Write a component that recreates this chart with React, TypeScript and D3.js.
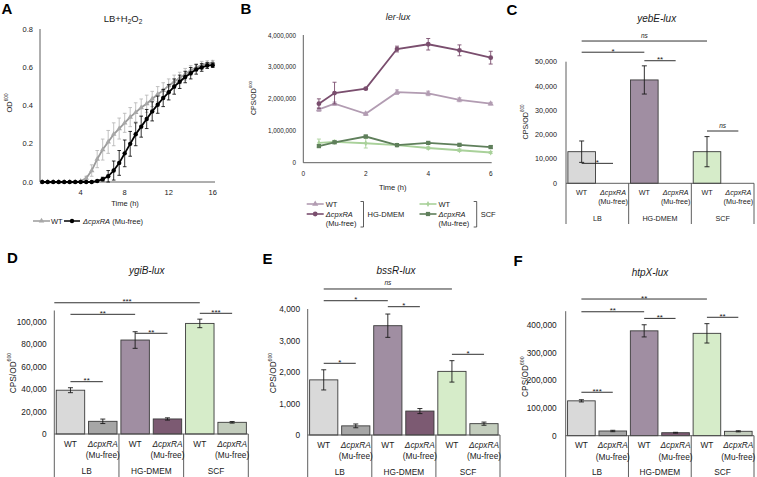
import React from "react";
import * as d3 from "d3";

const FONT = "'Liberation Sans', Arial, Helvetica, sans-serif";
const AXIS = "#4d4d4d";
const TEXT = "#1a1a1a";

// ---- Panel A: growth in LB + H2O2 (OD600) ----
const growthHours = [0.5, 1, 1.5, 2, 2.5, 3, 3.5, 4, 4.5, 5, 5.5, 6, 6.5, 7, 7.5, 8, 8.5, 9, 9.5, 10, 10.5, 11, 11.5, 12, 12.5, 13, 13.5, 14, 14.5, 15, 15.5, 16];
const growthWT = [0, 0, 0, 0, 0, 0, 0, 0.005, 0.02, 0.06, 0.12, 0.17, 0.21, 0.25, 0.28, 0.31, 0.34, 0.365, 0.39, 0.41, 0.435, 0.46, 0.48, 0.505, 0.525, 0.545, 0.565, 0.585, 0.6, 0.612, 0.62, 0.625];
const growthWTSd = [0, 0, 0, 0, 0, 0, 0, 0.003, 0.01, 0.03, 0.045, 0.055, 0.06, 0.06, 0.055, 0.05, 0.05, 0.05, 0.045, 0.045, 0.04, 0.04, 0.04, 0.035, 0.035, 0.03, 0.03, 0.025, 0.02, 0.02, 0.015, 0.012];
const growthCpx = [0, 0, 0, 0, 0, 0, 0, 0, 0, 0, 0.005, 0.015, 0.03, 0.06, 0.1, 0.15, 0.2, 0.25, 0.29, 0.33, 0.37, 0.405, 0.44, 0.47, 0.5, 0.525, 0.55, 0.57, 0.59, 0.6, 0.61, 0.612];
const growthCpxSd = [0, 0, 0, 0, 0, 0, 0, 0, 0, 0, 0.003, 0.01, 0.03, 0.05, 0.065, 0.07, 0.065, 0.06, 0.055, 0.05, 0.05, 0.045, 0.045, 0.04, 0.04, 0.035, 0.03, 0.03, 0.025, 0.02, 0.015, 0.012];
const growthYTicks = [0, 0.2, 0.4, 0.6, 0.8];
const growthXTicks = [4, 8, 12, 16];

// ---- Panel B: ler-lux time course (CPS/OD600) ----
const lerHours = [0.5, 1, 2, 3, 4, 5, 6];
const lerWTDmem = [1670000, 1850000, 1530000, 2210000, 2170000, 1970000, 1850000];
const lerWTDmemSd = [60000, 50000, 50000, 70000, 70000, 60000, 40000];
const lerCpxDmem = [1850000, 2180000, 2320000, 3560000, 3710000, 3520000, 3290000];
const lerCpxDmemSd = [150000, 340000, 30000, 90000, 180000, 170000, 200000];
const lerWTScf = [620000, 650000, 610000, 550000, 460000, 390000, 320000];
const lerWTScfSd = [120000, 50000, 150000, 40000, 40000, 40000, 30000];
const lerCpxScf = [520000, 640000, 820000, 550000, 620000, 560000, 490000];
const lerCpxScfSd = [40000, 30000, 40000, 30000, 30000, 30000, 40000];
const lerYTicks = [0, 1000000, 2000000, 3000000, 4000000];
const lerXTicks = [0, 2, 4, 6];

// ---- Panels C-F: reporter activity per medium ----
// a / b are bar slot indices (fractional values reach slot edges)
type Sig = { a: number; b: number; level: number; text: string };
const media = ["LB", "HG-DMEM", "SCF"];
const strains = ["WT", "ΔcpxRA"];
const barFill = ["#d9d9d9", "#a6a6a6", "#a08ea2", "#7c5a72", "#d6ecc9", "#c3cdbd"];

const yebEMean = [13000, 0, 42500, 0, 13000, 0];
const yebESd = [4400, 0, 5800, 0, 6200, 0];
const yebETicks = [0, 10000, 20000, 30000, 40000, 50000];
const yebESig: Sig[] = [
  { a: 0, b: 4, level: 58500, text: "ns" },
  { a: 0, b: 2, level: 53900, text: "*" },
  { a: 2, b: 3, level: 50400, text: "**" },
  { a: 0, b: 1, level: 8200, text: "*" },
  { a: 4, b: 5, level: 21500, text: "ns" },
];

const ygiBMean = [39000, 11300, 83700, 13400, 98500, 10400];
const ygiBSd = [2200, 2000, 7400, 1000, 3800, 700];
const ygiBTicks = [0, 20000, 40000, 60000, 80000, 100000];
const ygiBSig: Sig[] = [
  { a: -0.5, b: 4, level: 116900, text: "***" },
  { a: 0, b: 2, level: 106600, text: "**" },
  { a: 2, b: 3, level: 89700, text: "**" },
  { a: 4, b: 5, level: 107500, text: "***" },
  { a: 0, b: 1, level: 46600, text: "**" },
];

const bssRMean = [1750, 290, 3470, 760, 2020, 360];
const bssRSd = [320, 60, 370, 80, 340, 50];
const bssRTicks = [0, 1000, 2000, 3000, 4000];
const bssRSig: Sig[] = [
  { a: 0, b: 4, level: 4635, text: "ns" },
  { a: 0, b: 2, level: 4263, text: "*" },
  { a: 2, b: 3, level: 4073, text: "*" },
  { a: 4, b: 5, level: 2562, text: "*" },
  { a: 0, b: 1, level: 2276, text: "*" },
];

const htpXMean = [126000, 17000, 379000, 10800, 370000, 15900];
const htpXSd = [4000, 2500, 22000, 1500, 35000, 2000];
const htpXTicks = [0, 100000, 200000, 300000, 400000];
const htpXSig: Sig[] = [
  { a: 0, b: 4, level: 494000, text: "**" },
  { a: 0, b: 2, level: 448000, text: "**" },
  { a: 2, b: 3, level: 424000, text: "**" },
  { a: 4, b: 5, level: 428000, text: "**" },
  { a: 0, b: 1, level: 157000, text: "***" },
];

const fmt = d3.format(",");

function YLabel({ x, y, size, base }: { x: number; y: number; size: number; base: string }) {
  return (
    <text transform={`translate(${x},${y}) rotate(-90)`} textAnchor="middle" dominantBaseline="central" fontSize={size} fill={TEXT}>
      {base}
      <tspan fontSize={size * 0.62} dy={-size * 0.4}>600</tspan>
    </text>
  );
}

function Letter({ x, y, t }: { x: number; y: number; t: string }) {
  return (
    <text x={x} y={y} fontSize={15} fontWeight="bold" fill="#000" textAnchor="middle" dominantBaseline="central">
      {t}
    </text>
  );
}

function ErrBar({ x, y1, y2, cap, color, w }: { x: number; y1: number; y2: number; cap: number; color: string; w: number }) {
  return (
    <g stroke={color} strokeWidth={w}>
      <line x1={x} x2={x} y1={y1} y2={y2} />
      <line x1={x - cap} x2={x + cap} y1={y1} y2={y1} />
      <line x1={x - cap} x2={x + cap} y1={y2} y2={y2} />
    </g>
  );
}

function GrowthPanel() {
  const x = d3.scaleLinear().domain([0, 16]).range([36.7, 212.7]);
  const y = d3.scaleLinear().domain([0, 0.8]).range([182, 29.3]);
  const line = d3.line<number>().x((_, i) => x(growthHours[i])).y((d) => y(d));
  const tri = d3.symbol(d3.symbolTriangle, 13)()!;
  const series = [
    { v: growthWT, sd: growthWTSd, col: "#9b9b9b", err: "#b3b3b3", mark: "tri" },
    { v: growthCpx, sd: growthCpxSd, col: "#000", err: "#000", mark: "circ" },
  ];
  return (
    <g>
      <Letter x={7} y={8} t="A" />
      <text x={123} y={18} textAnchor="middle" dominantBaseline="central" fontSize={9.5} fill={TEXT}>
        LB+H<tspan fontSize={6.5} dy={2.5}>2</tspan>
        <tspan dy={-2.5}>O</tspan>
        <tspan fontSize={6.5} dy={2.5}>2</tspan>
      </text>
      <line x1={40} x2={40} y1={29} y2={182} stroke={AXIS} strokeWidth={0.9} />
      <line x1={40} x2={215} y1={182} y2={182} stroke={AXIS} strokeWidth={0.9} />
      {growthYTicks.map((t) => (
        <text key={t} x={33} y={y(t)} textAnchor="end" dominantBaseline="central" fontSize={7.5} fill={TEXT}>
          {t.toFixed(1)}
        </text>
      ))}
      {growthXTicks.map((t) => (
        <text key={t} x={x(t)} y={192.5} textAnchor="middle" dominantBaseline="central" fontSize={7.5} fill={TEXT}>
          {t}
        </text>
      ))}
      <text x={125} y={203} textAnchor="middle" dominantBaseline="central" fontSize={7.5} fill={TEXT}>Time (h)</text>
      <YLabel x={9} y={103} size={7.5} base="OD" />
      {series.map((s, k) => (
        <g key={k}>
          {s.v.map((d, i) =>
            s.sd[i] > 0 ? (
              <ErrBar key={i} x={x(growthHours[i])} y1={y(d + s.sd[i])} y2={y(d - s.sd[i])} cap={1.8} color={s.err} w={0.8} />
            ) : null
          )}
          <path d={line(s.v)!} fill="none" stroke={s.col} strokeWidth={1.8} />
          {s.v.map((d, i) =>
            s.mark === "tri" ? (
              <path key={i} d={tri} transform={`translate(${x(growthHours[i])},${y(d)})`} fill="#a8a8a8" />
            ) : (
              <circle key={i} cx={x(growthHours[i])} cy={y(d)} r={2.2} fill="#000" />
            )
          )}
        </g>
      ))}
      {/* legend */}
      <g fontSize={7.5} fill={TEXT}>
        <line x1={33} x2={50} y1={221} y2={221} stroke="#9b9b9b" strokeWidth={1.5} />
        <path d={tri} transform="translate(41.5,221)" fill="#a8a8a8" />
        <text x={51} y={221} dominantBaseline="central">WT</text>
        <line x1={64} x2={80} y1={221} y2={221} stroke="#000" strokeWidth={1.5} />
        <circle cx={72} cy={221} r={2.2} fill="#000" />
        <text x={83} y={221} dominantBaseline="central">
          <tspan fontStyle="italic">ΔcpxRA</tspan> (Mu-free)
        </text>
      </g>
    </g>
  );
}

function LerPanel() {
  const x = d3.scaleLinear().domain([0, 6]).range([303.3, 490.7]);
  const y = d3.scaleLinear().domain([0, 4000000]).range([162.7, 35]);
  const tri = d3.symbol(d3.symbolTriangle, 16)()!;
  const dia = d3.symbol(d3.symbolDiamond, 10)()!;
  const sq = d3.symbol(d3.symbolSquare, 18)()!;
  const circ = d3.symbol(d3.symbolCircle, 18)()!;
  const series = [
    { v: lerWTScf, sd: lerWTScfSd, col: "#a9d19a", m: dia },
    { v: lerCpxScf, sd: lerCpxScfSd, col: "#5f7f5b", m: sq },
    { v: lerWTDmem, sd: lerWTDmemSd, col: "#b29cb2", m: tri },
    { v: lerCpxDmem, sd: lerCpxDmemSd, col: "#7a4e6e", m: circ },
  ];
  const line = d3.line<number>().x((_, i) => x(lerHours[i])).y((d) => y(d));
  const legend = (lx: number, col1: string, m1: string, col2: string, m2: string, group: string, bx: number) => (
    <g fontSize={7.5} fill={TEXT}>
      <line x1={lx} x2={lx + 17} y1={204} y2={204} stroke={col1} strokeWidth={1.6} />
      <path d={m1} transform={`translate(${lx + 8.5},204)`} fill={col1} />
      <text x={lx + 19} y={204} dominantBaseline="central">WT</text>
      <line x1={lx} x2={lx + 17} y1={214} y2={214} stroke={col2} strokeWidth={1.6} />
      <path d={m2} transform={`translate(${lx + 8.5},214)`} fill={col2} />
      <text x={lx + 19} y={214} dominantBaseline="central" fontStyle="italic">ΔcpxRA</text>
      <text x={lx + 19} y={223.5} dominantBaseline="central">(Mu-free)</text>
      <path d={`M${bx - 3},201.5 H${bx} V227 H${bx - 3}`} fill="none" stroke="#333" strokeWidth={0.8} />
      <text x={bx + 4} y={214} dominantBaseline="central">{group}</text>
    </g>
  );
  return (
    <g>
      <Letter x={246} y={8} t="B" />
      <text x={398} y={17.3} textAnchor="middle" dominantBaseline="central" fontSize={9} fontStyle="italic" fill={TEXT}>ler-lux</text>
      <line x1={303.3} x2={303.3} y1={35} y2={162.7} stroke={AXIS} strokeWidth={0.9} />
      <line x1={303.3} x2={491.7} y1={162.7} y2={162.7} stroke={AXIS} strokeWidth={0.9} />
      {lerYTicks.map((t) => (
        <text key={t} x={296} y={y(t)} textAnchor="end" dominantBaseline="central" fontSize={6.3} fill={TEXT}>
          {fmt(t)}
        </text>
      ))}
      {lerXTicks.map((t) => (
        <text key={t} x={x(t)} y={173} textAnchor="middle" dominantBaseline="central" fontSize={6.5} fill={TEXT}>
          {t}
        </text>
      ))}
      <text x={392.7} y={187} textAnchor="middle" dominantBaseline="central" fontSize={7.5} fill={TEXT}>Time (h)</text>
      <YLabel x={253} y={98} size={7} base="CPS/OD" />
      {series.map((s, k) => (
        <g key={k}>
          <path d={line(s.v)!} fill="none" stroke={s.col} strokeWidth={1.8} />
          {s.v.map((d, i) => (
            <ErrBar key={i} x={x(lerHours[i])} y1={y(d + s.sd[i])} y2={y(d - s.sd[i])} cap={2} color={s.col} w={0.9} />
          ))}
          {s.v.map((d, i) => (
            <path key={"m" + i} d={s.m} transform={`translate(${x(lerHours[i])},${y(d)})`} fill={s.col} />
          ))}
        </g>
      ))}
      {legend(306.7, "#b29cb2", tri, "#7a4e6e", circ, "HG-DMEM", 363.5)}
      {legend(419.5, "#a9d19a", dia, "#5f7f5b", sq, "SCF", 476.7)}
    </g>
  );
}

type BarCfg = {
  letter: string; letterX: number; letterY: number;
  title: string; titleX: number; titleY: number;
  x0: number; x1: number; yBase: number; yTop: number; max: number;
  ticks: number[]; tickX: number; fs: number;
  ylabX: number; ylabY: number;
  rowA: number; rowB: number; rowC: number; sepEnd: number;
  mean: number[]; sd: number[]; sig: Sig[];
};

function BarPanel({ c }: { c: BarCfg }) {
  const idx = d3.range(c.mean.length);
  const x = d3.scaleBand<number>().domain(idx).range([c.x0, c.x1]).paddingInner(0.12).paddingOuter(0.06);
  const g = d3.scaleBand<string>().domain(media).range([c.x0, c.x1]);
  const y = d3.scaleLinear().domain([0, c.max]).range([c.yBase, c.yTop]);
  // slot centre for a (possibly fractional) bar index
  const cx = (i: number) => c.x0 + x.step() * (i + 0.5);
  return (
    <g>
      <Letter x={c.letterX} y={c.letterY} t={c.letter} />
      <text x={c.titleX} y={c.titleY} textAnchor="middle" dominantBaseline="central" fontSize={10} fontStyle="italic" fill={TEXT}>
        {c.title}
      </text>
      {c.ticks.map((t) => (
        <text key={t} x={c.tickX} y={y(t)} textAnchor="end" dominantBaseline="central" fontSize={c.fs} fill={TEXT}>
          {fmt(t)}
        </text>
      ))}
      <YLabel x={c.ylabX} y={c.ylabY} size={c.fs} base="CPS/OD" />
      {idx.map((i) => (
        <rect key={i} x={x(i)} y={y(c.mean[i])} width={x.bandwidth()} height={c.yBase - y(c.mean[i])} fill={barFill[i]} stroke="#3a3a3a" strokeWidth={0.9} />
      ))}
      {idx.map((i) =>
        c.sd[i] > 0 ? (
          <ErrBar key={i} x={cx(i)} y1={y(c.mean[i] + c.sd[i])} y2={y(c.mean[i] - c.sd[i])} cap={2.5} color="#1a1a1a" w={0.9} />
        ) : null
      )}
      {/* axes and category frame */}
      <line x1={c.x0} x2={c.x0} y1={c.yTop} y2={c.sepEnd} stroke={AXIS} strokeWidth={0.9} />
      <line x1={c.x0} x2={c.x1} y1={c.yBase} y2={c.yBase} stroke={AXIS} strokeWidth={0.9} />
      {media.map((m) => (
        <line key={m} x1={g(m)! + g.bandwidth()} x2={g(m)! + g.bandwidth()} y1={c.yBase} y2={c.sepEnd} stroke={AXIS} strokeWidth={0.9} />
      ))}
      {idx.map((i) => (
        <g key={i} fontSize={c.fs} fill={TEXT}>
          {i % 2 === 0 ? (
            <text x={cx(i)} y={c.yBase + c.rowA} textAnchor="middle" dominantBaseline="central">{strains[0]}</text>
          ) : (
            <>
              <text x={cx(i)} y={c.yBase + c.rowA} textAnchor="middle" dominantBaseline="central" fontStyle="italic">{strains[1]}</text>
              <text x={cx(i)} y={c.yBase + c.rowB} textAnchor="middle" dominantBaseline="central">(Mu-free)</text>
            </>
          )}
        </g>
      ))}
      {media.map((m) => (
        <text key={m} x={g(m)! + g.bandwidth() / 2} y={c.yBase + c.rowC} textAnchor="middle" dominantBaseline="central" fontSize={c.fs} fill={TEXT}>
          {m}
        </text>
      ))}
      {/* significance */}
      {c.sig.map((s, k) => {
        const ly = y(s.level);
        const xa = cx(s.a);
        const xb = cx(s.b);
        const isNs = s.text === "ns";
        return (
          <g key={k}>
            <line x1={xa} x2={xb} y1={ly} y2={ly} stroke="#1a1a1a" strokeWidth={0.9} />
            <text x={(xa + xb) / 2} y={isNs ? ly - 3.5 : ly + 1.5} textAnchor="middle" fontSize={isNs ? 6.5 : 8} fontStyle={isNs ? "italic" : "normal"} fill={TEXT}>
              {s.text}
            </text>
          </g>
        );
      })}
    </g>
  );
}

const panelC: BarCfg = {
  letter: "C", letterX: 512, letterY: 9, title: "yebE-lux", titleX: 656.7, titleY: 18.3,
  x0: 566, x1: 754, yBase: 183.3, yTop: 61.7, max: 50000, ticks: yebETicks, tickX: 557, fs: 7.2,
  ylabX: 525, ylabY: 122, rowA: 9.5, rowB: 18.5, rowC: 35, sepEnd: 224,
  mean: yebEMean, sd: yebESd, sig: yebESig,
};
const panelD: BarCfg = {
  letter: "D", letterX: 12.5, letterY: 257, title: "ygiB-lux", titleX: 146.7, titleY: 270,
  x0: 54.3, x1: 248.3, yBase: 434, yTop: 310.5, max: 110000, ticks: ygiBTicks, tickX: 46.7, fs: 8.3,
  ylabX: 12.7, ylabY: 373, rowA: 9.5, rowB: 21, rowC: 37, sepEnd: 477,
  mean: ygiBMean, sd: ygiBSd, sig: ygiBSig,
};
const panelE: BarCfg = {
  letter: "E", letterX: 267.5, letterY: 258.3, title: "bssR-lux", titleX: 396, titleY: 270,
  x0: 307.7, x1: 500, yBase: 435, yTop: 309, max: 4000, ticks: bssRTicks, tickX: 300, fs: 8.3,
  ylabX: 273.3, ylabY: 373, rowA: 9.5, rowB: 20.5, rowC: 37, sepEnd: 477,
  mean: bssRMean, sd: bssRSd, sig: bssRSig,
};
const panelF: BarCfg = {
  letter: "F", letterX: 518, letterY: 260, title: "htpX-lux", titleX: 650, titleY: 272.3,
  x0: 565.7, x1: 754, yBase: 435.7, yTop: 311.2, max: 450000, ticks: htpXTicks, tickX: 556.7, fs: 8.3,
  ylabX: 525, ylabY: 376.7, rowA: 9.5, rowB: 21, rowC: 36.5, sepEnd: 477,
  mean: htpXMean, sd: htpXSd, sig: htpXSig,
};

export default function App() {
  return (
    <svg width={757} height={477} viewBox="0 0 757 477" style={{ position: "absolute", left: 0, top: 0, background: "#fff" }} fontFamily={FONT}>
      <rect width={757} height={477} fill="#fff" />
      <GrowthPanel />
      <LerPanel />
      <BarPanel c={panelC} />
      <BarPanel c={panelD} />
      <BarPanel c={panelE} />
      <BarPanel c={panelF} />
    </svg>
  );
}
